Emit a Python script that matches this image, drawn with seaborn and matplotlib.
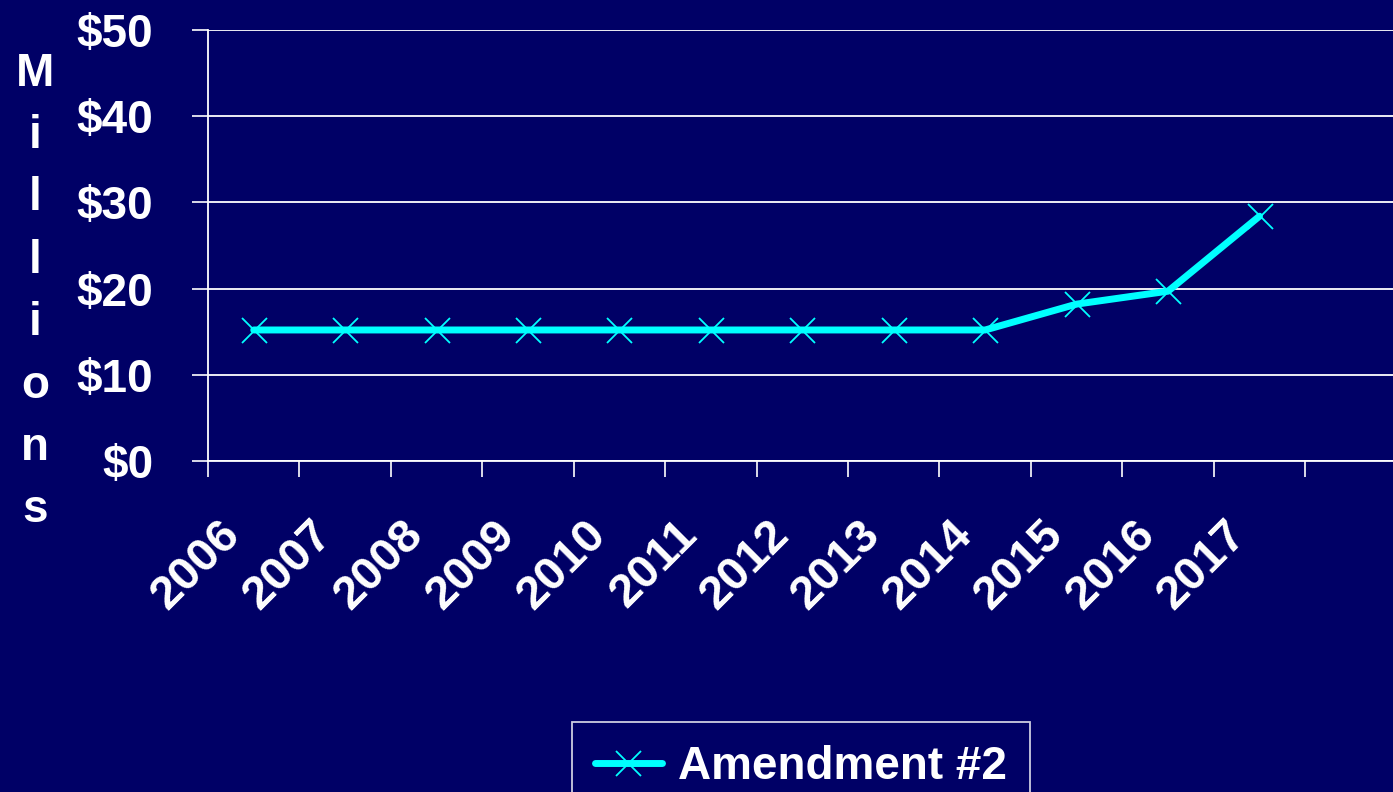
import numpy as np
import pandas as pd
import matplotlib
matplotlib.use("Agg")
import matplotlib.pyplot as plt
import matplotlib.transforms as mtransforms
import seaborn as sns

# data
years = ["2006", "2007", "2008", "2009", "2010", "2011",
         "2012", "2013", "2014", "2015", "2016", "2017"]
amendment_2 = [15.2, 15.2, 15.2, 15.2, 15.2, 15.2,
               15.2, 15.2, 15.2, 18.2, 19.7, 28.4]
y_ticks = [0, 10, 20, 30, 40, 50]
series_name = "Amendment #2"

navy = "#000066"
cyan = "#00FFFF"

sns.set_style("white")
plt.rcParams["font.family"] = ["Liberation Sans", "DejaVu Sans"]
plt.rcParams["font.weight"] = "bold"

df = pd.DataFrame({"Year": years, "Value": amendment_2, "Series": series_name})

fig = plt.figure(figsize=(13.93, 7.92), dpi=100, facecolor=navy)
ax = fig.add_axes([208 / 1393, 1 - 461 / 792, 1 - 208 / 1393, 431 / 792])
ax.set_facecolor(navy)

sns.lineplot(data=df, x="Year", y="Value", hue="Series", palette=[cyan],
             marker="x", markersize=18, markeredgewidth=1.3,
             markeredgecolor=cyan, linewidth=5, ax=ax, legend=True)

ax.set_ylim(0, 50)
ax.set_xlim(-0.5, 12.46)

# y axis
ax.set_yticks(y_ticks, [f"${v}" for v in y_ticks])
ax.tick_params(axis="y", left=True, direction="out", length=11.5, width=1.2,
               color="white", labelcolor="white", labelsize=33, pad=28)
ax.grid(axis="y", color="white", linewidth=1.3)
ax.set_axisbelow(True)

# x axis: labels centred in categories, tick marks on boundaries
ax.set_xticks(range(len(years)), years)
ax.set_xticks(np.arange(-0.5, len(years)), minor=True)
ax.tick_params(axis="x", which="major", bottom=True, length=0,
               labelcolor="white", labelsize=34, pad=48)
ax.tick_params(axis="x", which="minor", bottom=True, direction="out",
               length=11.5, width=1.2, color="white")
offset = mtransforms.ScaledTranslation(-20 / 100, 0, fig.dpi_scale_trans)
for lab in ax.get_xticklabels():
    lab.set_rotation(45)
    lab.set_ha("right")
    lab.set_va("center")
    lab.set_rotation_mode("anchor")
    lab.set_transform(lab.get_transform() + offset)
ax.set_xlabel("")
ax.set_ylabel("")

for side in ["top", "right"]:
    ax.spines[side].set_visible(False)
for side in ["left", "bottom"]:
    ax.spines[side].set_color("white")
    ax.spines[side].set_linewidth(1.3)

# stacked y label
fig.text(35 / 1393, 1 - 292 / 792, "\n".join("Millions"), color="white",
         fontsize=33, fontweight="bold", ha="center", va="center",
         linespacing=1.54)

# legend, partly below the figure edge
handles, labels = ax.get_legend_handles_labels()
ax.legend_.remove()
leg = fig.legend(handles, labels, loc="upper center",
                 bbox_to_anchor=(801 / 1393, 1 - 722 / 792),
                 borderaxespad=0, frameon=True, fancybox=False, fontsize=33,
                 handlelength=1.45, handletextpad=0.35, borderpad=0.5,
                 labelcolor="white")
leg.get_frame().set_facecolor(navy)
leg.get_frame().set_edgecolor("white")
leg.get_frame().set_linewidth(1.3)
for t in leg.get_texts():
    t.set_fontweight("bold")

fig.savefig("out.png", dpi=100, facecolor=navy)
